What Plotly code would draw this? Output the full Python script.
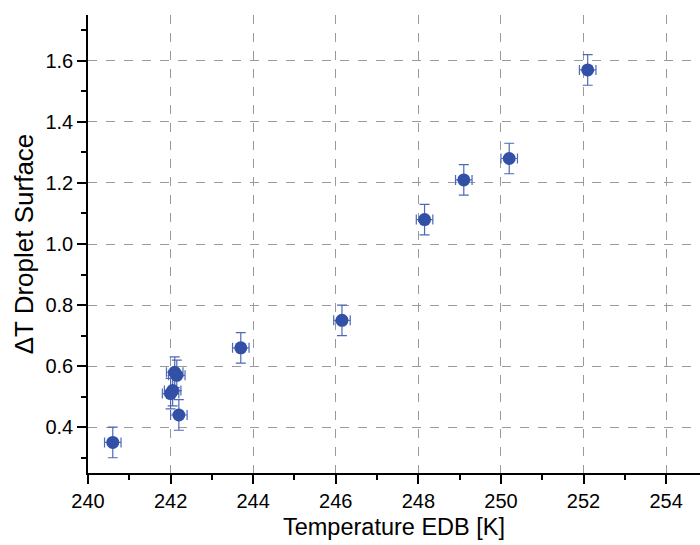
import plotly.graph_objects as go

# Data
temperature_k = [240.6, 242.1, 242.15, 242.05, 242.0, 242.2, 243.7, 246.15, 248.15, 249.1, 250.2, 252.1]
delta_t = [0.35, 0.58, 0.57, 0.52, 0.51, 0.44, 0.66, 0.75, 1.08, 1.21, 1.28, 1.57]
x_err = [0.2] * len(temperature_k)
y_err = [0.05] * len(delta_t)

FONT = "Liberation Sans, Arial, sans-serif"
MARK = "#3250a6"
ERR = "#4d69b8"

fig = go.Figure()
fig.add_trace(go.Scatter(
    x=temperature_k, y=delta_t, mode="markers",
    marker=dict(size=13, color=MARK, line=dict(width=0)),
    error_x=dict(type="data", array=x_err, color=ERR, thickness=1.2, width=5),
    error_y=dict(type="data", array=y_err, color=ERR, thickness=1.2, width=5),
    showlegend=False,
))

XR = [240, 254.82]
YR = [0.25, 1.75]

fig.update_layout(
    width=700, height=545,
    margin=dict(l=88, r=0, t=15, b=72),
    paper_bgcolor="white", plot_bgcolor="white",
    font=dict(family=FONT, color="black"),
    xaxis=dict(
        range=XR, tick0=240, dtick=2,
        showline=True, linecolor="black", linewidth=1.5,
        ticks="outside", ticklen=9, tickwidth=1.5, tickcolor="black",
        minor=dict(ticks="outside", ticklen=5, tickwidth=1.5, dtick=1, tickcolor="black", showgrid=False),
        showgrid=True, gridcolor="#9a9a9a", gridwidth=1, griddash="dash",
        zeroline=False,
        tickfont=dict(size=20, family=FONT, color="black"),
        title=dict(text="Temperature EDB [K]", font=dict(size=23.5, family=FONT, color="black"), standoff=8),
    ),
    yaxis=dict(
        range=YR, tick0=0, dtick=0.2, tickformat=".1f",
        showline=True, linecolor="black", linewidth=1.5,
        ticks="outside", ticklen=9, tickwidth=1.5, tickcolor="black",
        minor=dict(ticks="outside", ticklen=5, tickwidth=1.5, dtick=0.1, tickcolor="black", showgrid=False),
        showgrid=True, gridcolor="#9a9a9a", gridwidth=1, griddash="dash",
        zeroline=False,
        tickfont=dict(size=20, family=FONT, color="black"),
        title=dict(text="ΔT Droplet Surface", font=dict(size=26, family=FONT, color="black"), standoff=4),
    ),
    xaxis2=dict(
        overlaying="x", side="top", anchor="y", range=XR, tick0=240, dtick=2,
        showline=True, linecolor="black", linewidth=1.5,
        ticks="inside", ticklen=8, tickwidth=1.5, tickcolor="black",
        showticklabels=False, showgrid=False, zeroline=False,
    ),
    yaxis2=dict(
        overlaying="y", side="right", anchor="x", range=YR, tick0=0, dtick=0.2,
        showline=False,
        ticks="inside", ticklen=3, tickwidth=1.5, tickcolor="black",
        showticklabels=False, showgrid=False, zeroline=False,
    ),
)

fig.write_html("out.html")
